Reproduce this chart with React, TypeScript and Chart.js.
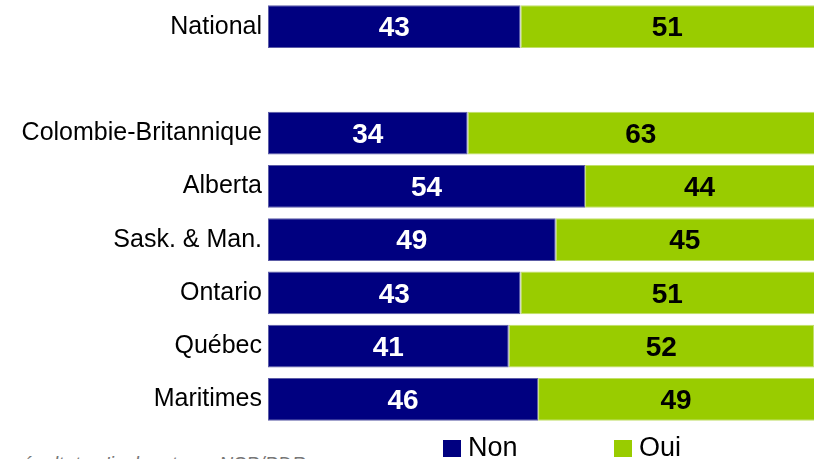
import React, { useEffect, useRef } from "react";
import { Chart } from "chart.js/auto";

const categories = ["National", "", "Colombie-Britannique", "Alberta", "Sask. & Man.", "Ontario", "Québec", "Maritimes"];
const nonValues = [43, null, 34, 54, 49, 43, 41, 46];
const ouiValues = [51, null, 63, 44, 45, 51, 52, 49];
const seriesNames = ["Non", "Oui"];
const noteText = "Les résultats n'incluent pas NSP/PDR";

const NAVY = "#000080";
const GREEN = "#99CC00";

const labelPlugin = {
  id: "segLabels",
  afterDatasetsDraw(chart: any) {
    const ctx = chart.ctx;
    const area = chart.chartArea;
    ctx.save();
    ctx.font = "bold 28px 'Liberation Sans', Arial, sans-serif";
    ctx.textAlign = "center";
    ctx.textBaseline = "middle";
    chart.data.datasets.forEach((ds: any, di: number) => {
      const meta = chart.getDatasetMeta(di);
      meta.data.forEach((el: any, i: number) => {
        const v = ds.data[i];
        if (v === null || v === undefined) return;
        const x1 = Math.max(area.left, Math.min(el.base, el.x));
        const x2 = Math.min(area.right, Math.max(el.base, el.x));
        ctx.fillStyle = di === 0 ? "#ffffff" : "#000000";
        ctx.fillText(String(v), (x1 + x2) / 2, el.y + 2);
      });
    });
    ctx.restore();
  },
};

export default function App() {
  const ref = useRef<HTMLCanvasElement>(null);
  useEffect(() => {
    document.body.style.margin = "0";
    const chart = new Chart(ref.current!, {
      type: "bar",
      data: {
        labels: categories,
        datasets: [
          {
            label: seriesNames[0],
            data: nonValues,
            backgroundColor: NAVY,
            borderColor: "#5c5ca6",
            borderWidth: 1,
            borderSkipped: false,
            categoryPercentage: 1,
            barPercentage: 0.8,
          },
          {
            label: seriesNames[1],
            data: ouiValues,
            backgroundColor: GREEN,
            borderColor: "#c2e06a",
            borderWidth: 1,
            borderSkipped: false,
            categoryPercentage: 1,
            barPercentage: 0.8,
          },
        ],
      },
      options: {
        indexAxis: "y",
        responsive: true,
        maintainAspectRatio: false,
        animation: false,
        layout: { padding: 0 },
        plugins: { legend: { display: false }, tooltip: { enabled: false } },
        scales: {
          x: { stacked: true, min: 0, max: 93, display: false },
          y: {
            stacked: true,
            grid: { display: false, drawTicks: false },
            border: { display: false },
            ticks: {
              color: "#000",
              padding: 6,
              font: { family: "'Liberation Sans', Arial, sans-serif", size: 25 },
            },
            afterFit: (s: any) => {
              s.width = 268;
            },
          },
        },
      },
      plugins: [labelPlugin],
    });
    return () => chart.destroy();
  }, []);

  return (
    <div style={{ position: "fixed", left: 0, top: 0, width: 814, height: 459, overflow: "hidden", background: "#fff", fontFamily: "'Liberation Sans', Arial, sans-serif" }}>
      <div style={{ position: "absolute", left: 0, top: -21, width: 814, height: 468 }}>
        <canvas ref={ref} />
      </div>
      <div style={{ position: "absolute", left: 443, top: 440, width: 18, height: 17, background: NAVY }} />
      <div style={{ position: "absolute", left: 468, top: 434, fontSize: 27, lineHeight: 1, color: "#000" }}>{seriesNames[0]}</div>
      <div style={{ position: "absolute", left: 614, top: 440, width: 18, height: 17, background: GREEN }} />
      <div style={{ position: "absolute", left: 639, top: 434, fontSize: 27, lineHeight: 1, color: "#000" }}>{seriesNames[1]}</div>
      <div style={{ position: "absolute", left: -21, top: 455, fontSize: 19.5, lineHeight: 1, fontStyle: "italic", color: "#777", whiteSpace: "nowrap" }}>{noteText}</div>
    </div>
  );
}
